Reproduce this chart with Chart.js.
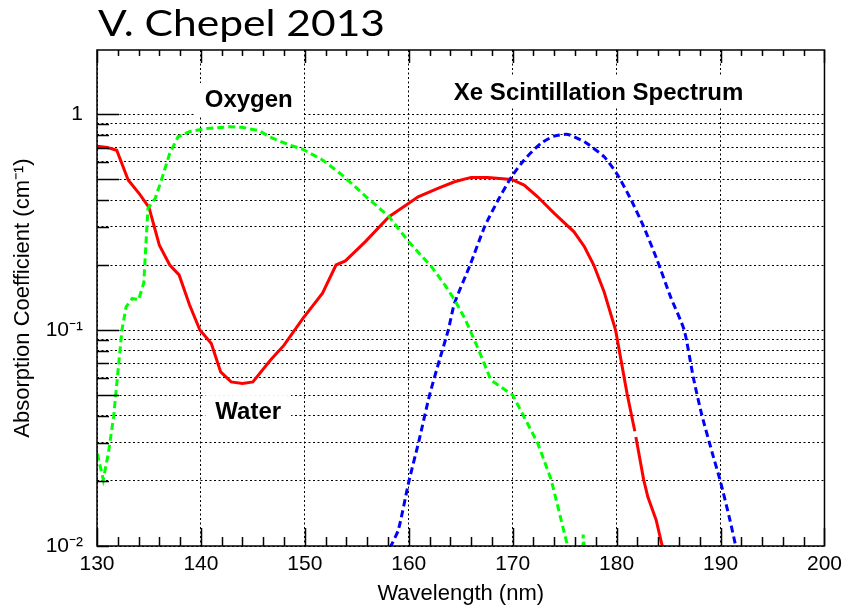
<!DOCTYPE html>
<html>
<head>
<meta charset="utf-8">
<script src="https://cdn.jsdelivr.net/npm/chart.js@4.4.1/dist/chart.umd.min.js"></script>
<style>
  body { margin: 0; background: #fff; }
  canvas { display: block; }
</style>
</head>
<body>
<canvas id="grafico" width="848" height="607"></canvas>
<script>
// absorcao da agua (cm-1)
const waterNm = [130, 131, 131.9, 133.0, 134.1, 135.0, 136.0, 137.0, 137.9, 138.9, 139.9, 141.0, 141.9, 142.9, 144.0, 145.0, 146.7, 148.0, 149.8, 151.7, 153.0, 153.9, 155.8, 158.1, 160.0, 160.9, 162.8, 164.4, 166.0, 167.6, 169.9, 171.1, 172.4, 174.0, 175.9, 176.9, 177.8, 178.8, 179.9, 181.0, 181.75, 181.8, 181.85, 182.6, 183.0, 183.8, 184.5];
const waterAbs = [0.71, 0.70, 0.68, 0.495, 0.426, 0.37, 0.247, 0.2, 0.18, 0.131, 0.1, 0.0866, 0.064, 0.0575, 0.0566, 0.0575, 0.0726, 0.0851, 0.113, 0.148, 0.2, 0.209, 0.256, 0.335, 0.386, 0.414, 0.453, 0.486, 0.509, 0.509, 0.498, 0.469, 0.414, 0.347, 0.285, 0.243, 0.2, 0.15, 0.1, 0.0509, 0.034, null, 0.032, 0.0203, 0.0169, 0.0132, 0.0095];

// absorcao do oxigenio
const oxyNm = [129.8, 130.6, 131.1, 131.6, 132.4, 132.8, 133.4, 134.0, 134.5, 134.9, 135.6, 136.2, 137.0, 137.8, 138.9, 140.5, 142.7, 144.0, 145.6, 146.6, 148.5, 149.8, 151.7, 153.6, 155.9, 158.1, 160.0, 162.2, 163.5, 164.4, 165.4, 166.7, 167.9, 170.0, 171.0, 172.4, 173.7, 175.3, 176.0, 176.7, 176.78, 176.95];
const oxyAbs = [0.03, 0.0203, 0.027, 0.0397, 0.1, 0.128, 0.14, 0.138, 0.165, 0.366, 0.407, 0.495, 0.658, 0.785, 0.828, 0.858, 0.873, 0.868, 0.837, 0.785, 0.719, 0.687, 0.613, 0.522, 0.414, 0.335, 0.256, 0.196, 0.161, 0.138, 0.113, 0.0814, 0.0587, 0.05, 0.0404, 0.03, 0.0203, 0.0099, 0.006, 0.006, 0.0113, 0.009];

// espectro de cintilacao do Xe
const xeNm = [158.2, 159.0, 160.0, 161.0, 162.0, 163.0, 163.8, 164.4, 165.9, 167.3, 168.6, 169.9, 171.1, 172.7, 174.0, 175.3, 176.9, 178.8, 180.1, 181.4, 182.6, 183.9, 185.2, 186.5, 187.4, 188.2, 189.2, 190.0, 190.9, 191.5];
const xeAbs = [0.0098, 0.0119, 0.0198, 0.031, 0.05, 0.0739, 0.1, 0.133, 0.2, 0.301, 0.40, 0.513, 0.613, 0.732, 0.791, 0.805, 0.744, 0.634, 0.522, 0.40, 0.301, 0.211, 0.142, 0.1, 0.0596, 0.0404, 0.027, 0.0198, 0.0132, 0.0098];

const yTicks = [0.01, 0.02, 0.03, 0.04, 0.05, 0.06, 0.07, 0.08, 0.09, 0.1, 0.2, 0.3, 0.4, 0.5, 0.6, 0.7, 0.8, 0.9, 1];
const yLabels = { 0.01: "10\u207B\u00B2", 0.1: "10\u207B\u00B9", 1: "1" };

const fonte = "'Liberation Sans', Arial, Helvetica, sans-serif";

function pontos(xs, ys) {
    return xs.map((x, i) => ({ x: x, y: ys[i] }));
}

// textos dentro do grafico (posicao em coordenadas de dados)
const anotacoes = [
    { texto: "Oxygen", x: 144.6, y: 1.077 },
    { texto: "Water", x: 144.55, y: 0.0387 },
    { texto: "Xe Scintillation Spectrum", x: 178.26, y: 1.167 }
];

const molduraROOT = {
    id: "molduraROOT",
    beforeDatasetsDraw(chart) {
        const ctx = chart.ctx;
        const sx = chart.scales.x, sy = chart.scales.y;
        ctx.save();
        ctx.font = "bold 24px " + fonte;
        ctx.textAlign = "center";
        ctx.textBaseline = "alphabetic";
        anotacoes.forEach((a) => {
            const px = sx.getPixelForValue(a.x);
            const py = sy.getPixelForValue(a.y);
            const w = ctx.measureText(a.texto).width;
            ctx.fillStyle = "#fff";
            ctx.fillRect(px - w / 2 - 10, py - 24, w + 20, 32);
            ctx.fillStyle = "#000";
            ctx.fillText(a.texto, px, py);
        });
        ctx.restore();
    },
    afterDraw(chart) {
        const ctx = chart.ctx;
        const area = chart.chartArea;
        const sx = chart.scales.x, sy = chart.scales.y;
        ctx.save();
        ctx.strokeStyle = "#000";
        ctx.lineWidth = 1.5;
        ctx.setLineDash([]);
        ctx.beginPath();
        // marcas do eixo x (baixo e cima)
        for (let v = 130; v <= 200; v += 2) {
            const px = Math.round(sx.getPixelForValue(v)) + 0.5;
            const major = v % 10 == 0;
            ctx.moveTo(px, area.bottom);
            ctx.lineTo(px, area.bottom - (major ? 18 : 9));
            ctx.moveTo(px, area.top);
            ctx.lineTo(px, area.top + (major ? 13 : 6));
        }
        // marcas do eixo y
        yTicks.forEach((v) => {
            const py = Math.round(sy.getPixelForValue(v)) + 0.5;
            const longo = (v == 1 || v == 0.1 || v == 0.5 || v == 0.05);
            ctx.moveTo(area.left, py);
            ctx.lineTo(area.left + (longo ? 22 : 12), py);
        });
        ctx.stroke();
        ctx.strokeRect(area.left, area.top, area.right - area.left, area.bottom - area.top);

        // titulo do slide, esticado na horizontal como no original
        const titulo = "V. Chepel 2013";
        ctx.fillStyle = "#000";
        ctx.font = "37px Lato, 'Open Sans', sans-serif";
        ctx.textAlign = "left";
        ctx.textBaseline = "alphabetic";
        const larg = ctx.measureText(titulo).width;
        ctx.translate(98, 36);
        ctx.scale(287 / larg, 1);
        ctx.fillText(titulo, 0, 0);
        ctx.restore();
    }
};

Chart.defaults.color = "#000";
Chart.defaults.font.family = fonte;

const ctx = document.getElementById("grafico");
const chart = new Chart(ctx, {
    type: "line",
    data: {
        datasets: [
            {
                label: "Oxygen",
                data: pontos(oxyNm, oxyAbs),
                borderColor: "#00ff00",
                borderWidth: 3,
                borderDash: [7, 4],
                pointRadius: 0,
                tension: 0
            },
            {
                label: "Xe Scintillation Spectrum",
                data: pontos(xeNm, xeAbs),
                borderColor: "#0000ff",
                borderWidth: 3,
                borderDash: [7, 4],
                pointRadius: 0,
                tension: 0.2
            },
            {
                label: "Water",
                data: pontos(waterNm, waterAbs),
                borderColor: "#ff0000",
                borderWidth: 3,
                pointRadius: 0,
                tension: 0,
                spanGaps: false
            }
        ]
    },
    options: {
        responsive: false,
        animation: false,
        layout: {
            padding: { left: 0, right: 20, top: 50, bottom: 0 }
        },
        plugins: {
            legend: { display: false },
            tooltip: { enabled: false }
        },
        scales: {
            x: {
                type: "linear",
                min: 130,
                max: 200,
                afterFit: (scale) => { scale.height = 61; },
                ticks: {
                    stepSize: 10,
                    padding: 6,
                    font: { size: 21 },
                    color: "#000"
                },
                grid: {
                    color: "#000",
                    lineWidth: 1,
                    drawTicks: false
                },
                border: { display: false, dash: [2, 2.5] },
                title: {
                    display: true,
                    text: "Wavelength (nm)",
                    font: { size: 22 },
                    padding: { top: 0, bottom: 0 }
                }
            },
            y: {
                type: "logarithmic",
                min: 0.01,
                max: 1.98,
                afterFit: (scale) => { scale.width = 97; },
                afterBuildTicks: (scale) => {
                    scale.ticks = yTicks.map((v) => ({ value: v }));
                },
                ticks: {
                    autoSkip: false,
                    padding: 14,
                    font: { size: 21 },
                    color: "#000",
                    callback: (v) => yLabels[v] || ""
                },
                grid: {
                    color: "#000",
                    lineWidth: 1,
                    drawTicks: false
                },
                border: { display: false, dash: [2, 2.5] },
                title: {
                    display: true,
                    text: "Absorption Coefficient (cm\u207B\u00B9)",
                    font: { size: 22 },
                    padding: { top: 10, bottom: 0 }
                }
            }
        }
    },
    plugins: [molduraROOT]
});
</script>
</body>
</html>
